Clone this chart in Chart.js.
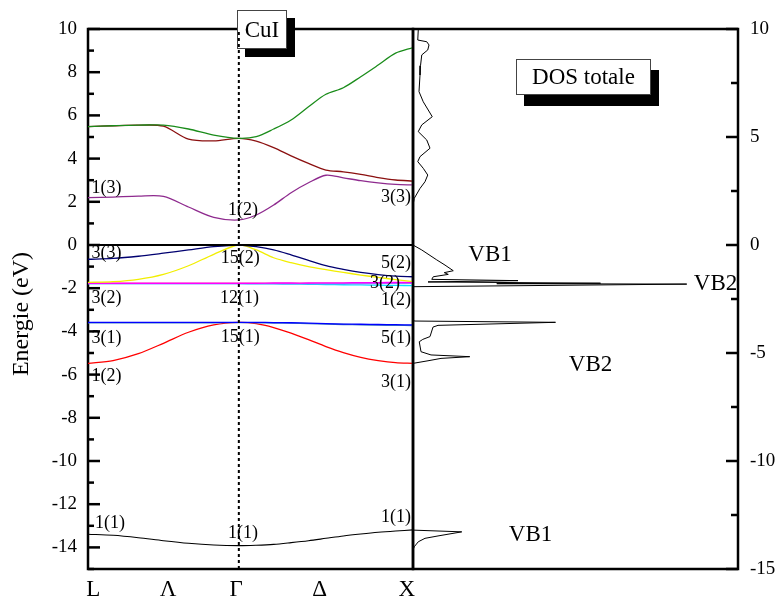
<!DOCTYPE html>
<html>
<head>
<meta charset="utf-8">
<script src="https://cdn.jsdelivr.net/npm/chart.js@4.4.1/dist/chart.umd.min.js"></script>
<style>
  html, body { margin: 0; padding: 0; background: #fff; }
  #wrap { position: relative; width: 780px; height: 608px; }
  #bands { position: absolute; left: 0; top: 0; width: 416px; height: 608px; }
  #dos { position: absolute; left: 408px; top: 0; width: 372px; height: 608px; }
</style>
</head>
<body>
<div id="wrap">
  <canvas id="bands" width="416" height="608"></canvas>
  <canvas id="dos" width="372" height="608"></canvas>
</div>
<script>
// ---------------------------------------------------------------
// Données : structure de bandes de CuI (L -> Γ -> X) et DOS totale
// ---------------------------------------------------------------
const SERIF = '"Liberation Serif", "Times New Roman", serif';

// chemin k en unités de 2π/a
const kPath = [0, 0.144, 0.289, 0.433, 0.577, 0.722, 0.866, 0.966, 1.066, 1.166, 1.266, 1.366, 1.466, 1.566, 1.666, 1.766, 1.866];
const kLabels = ["L", "Λ", "Γ", "Δ", "X"];
const kLabelPos = [0.03, 0.46, 0.85, 1.33, 1.83];

// énergies des bandes (eV)
const bandGreen   = [5.48, 5.52, 5.55, 5.55, 5.37, 5.09, 4.94, 5.02, 5.37, 5.79, 6.40, 6.98, 7.28, 7.79, 8.33, 8.88, 9.14];
const bandDarkRed = [5.48, 5.52, 5.55, 5.50, 4.90, 4.82, 4.94, 4.81, 4.51, 4.13, 3.78, 3.47, 3.39, 3.27, 3.12, 3.01, 2.96];
const bandPurple  = [2.19, 2.22, 2.26, 2.25, 1.76, 1.28, 1.16, 1.39, 1.85, 2.42, 2.88, 3.23, 3.11, 2.98, 2.88, 2.81, 2.78];
const bandNavy    = [-0.66, -0.62, -0.52, -0.38, -0.23, -0.08, 0, -0.08, -0.23, -0.46, -0.71, -0.96, -1.13, -1.27, -1.37, -1.44, -1.47];
const bandYellow  = [-1.73, -1.70, -1.59, -1.36, -0.96, -0.43, 0, -0.23, -0.59, -0.82, -1.00, -1.14, -1.27, -1.39, -1.50, -1.60, -1.70];
const bandMagenta = [-1.77, -1.77, -1.77, -1.77, -1.77, -1.77, -1.77, -1.77, -1.76, -1.76, -1.76, -1.75, -1.75, -1.74, -1.74, -1.73, -1.73];
const bandViolet  = [-1.79, -1.79, -1.79, -1.79, -1.79, -1.79, -1.79, -1.79, -1.79, -1.79, -1.79, -1.79, -1.79, -1.79, -1.78, -1.78, -1.78];
const bandOrange  = [-1.78, -1.78, -1.78, -1.78, -1.78, -1.78, -1.78, -1.78, -1.78, -1.78, -1.78, -1.78, -1.78, -1.78, -1.77, -1.76, -1.75];
const bandCyan    = [-1.79, -1.79, -1.79, -1.79, -1.79, -1.79, -1.79, -1.80, -1.80, -1.81, -1.82, -1.83, -1.84, -1.85, -1.86, -1.87, -1.88];
const bandBlue    = [-3.58, -3.58, -3.58, -3.58, -3.58, -3.58, -3.58, -3.58, -3.59, -3.60, -3.62, -3.64, -3.66, -3.67, -3.68, -3.69, -3.70];
const bandSteel   = [-3.60, -3.60, -3.60, -3.60, -3.60, -3.60, -3.59, -3.60, -3.61, -3.62, -3.64, -3.66, -3.68, -3.70, -3.71, -3.72, -3.73];
const bandRed     = [-5.48, -5.35, -5.03, -4.55, -4.04, -3.70, -3.58, -3.64, -3.82, -4.08, -4.38, -4.70, -4.98, -5.20, -5.35, -5.45, -5.48];
const bandBlack   = [-13.39, -13.44, -13.55, -13.69, -13.81, -13.89, -13.92, -13.90, -13.86, -13.78, -13.69, -13.58, -13.47, -13.38, -13.30, -13.24, -13.19];

// étiquettes des points de haute symétrie : [texte, k, E, alignement]
const pointLabels = [
  ["1(3)", 0.02, 2.64, "left"], ["3(3)", 0.02, -0.37, "left"], ["3(2)", 0.02, -2.45, "left"],
  ["3(1)", 0.02, -4.31, "left"], ["1(2)", 0.02, -6.06, "left"], ["1(1)", 0.04, -12.87, "left"],
  ["1(2)", 0.89, 1.62, "center"], ["15(2)", 0.874, -0.60, "center"], ["12(1)", 0.87, -2.45, "center"],
  ["15(1)", 0.874, -4.26, "center"], ["1(1)", 0.89, -13.33, "center"],
  ["3(3)", 1.855, 2.22, "right"], ["5(2)", 1.855, -0.83, "right"], ["3(2)", 1.791, -1.76, "right"],
  ["1(2)", 1.855, -2.55, "right"], ["5(1)", 1.855, -4.31, "right"], ["3(1)", 1.855, -6.34, "right"],
  ["1(1)", 1.855, -12.59, "right"]
];

// DOS totale : énergie (eV) / densité (u.a.)
const dosEnergy = [10.0, 9.95, 9.49, 9.41, 9.26, 9.03, 8.80, 8.30, 7.87, 7.10, 6.63, 5.94, 5.56, 5.25, 4.86, 4.48, 4.09, 3.86, 3.55, 3.24, 2.93, 2.62, 2.16, 1.85,
  0.0, -0.23, -0.69, -0.93, -1.19, -1.28, -1.36, -1.47, -1.59, -1.65, -1.71, -1.77, -1.79, -1.81, -1.93,
  -3.50, -3.52, -3.58, -3.72, -3.80, -4.24, -4.37, -4.48, -4.94, -5.09, -5.17, -5.25, -5.36, -5.48,
  -13.20, -13.28, -13.47, -13.58, -13.74, -13.97, -14.12, -15.0];
const dosValue = [0.40, 0.42, 0.38, 1.10, 1.28, 1.18, 0.70, 0.60, 0.56, 0.48, 0.82, 1.54, 0.70, 0.42, 1.10, 1.36, 0.56, 0.38, 0.82, 1.18, 0.96, 0.56, 0.10, 0,
  0, 0.70, 1.90, 2.56, 3.22, 2.50, 2.82, 1.62, 1.50, 8.40, 1.20, 15.0, 6.70, 21.9, 0,
  0, 0.16, 11.4, 2.00, 1.60, 1.36, 0.78, 0.50, 0.64, 1.44, 4.54, 2.24, 1.20, 0,
  0, 3.90, 2.00, 0.96, 0.42, 0.10, 0, 0];

// étiquettes des pics de la DOS : [texte, densité, E]
const dosLabels = [["VB1", 6.16, -0.46], ["VB2", 24.2, -1.81], ["VB2", 14.2, -5.56], ["VB1", 9.4, -13.43]];

// ---------------------------------------------------------------
// Petits utilitaires de dessin
// ---------------------------------------------------------------
function shadowBox(ctx, x, y, w, h, dx, dy, text) {
  ctx.save();
  ctx.fillStyle = "#000";
  ctx.fillRect(x + dx, y + dy, w, h);
  ctx.fillStyle = "#fff";
  ctx.fillRect(x, y, w, h);
  ctx.strokeStyle = "#444";
  ctx.lineWidth = 1;
  ctx.strokeRect(x + 0.5, y + 0.5, w - 1, h - 1);
  ctx.fillStyle = "#000";
  ctx.font = "23px " + SERIF;
  ctx.textAlign = "center";
  ctx.textBaseline = "middle";
  ctx.fillText(text, x + w / 2, y + h / 2 + 1);
  ctx.restore();
}

// graduations vers l'intérieur
function innerTicks(ctx, scale, x, dir, isMajor, majorLen, minorLen) {
  ctx.save();
  ctx.strokeStyle = "#000";
  ctx.lineWidth = 2.5;
  scale.ticks.forEach(t => {
    const y = scale.getPixelForValue(t.value);
    const len = isMajor(t.value) ? majorLen : minorLen;
    ctx.beginPath();
    ctx.moveTo(x, y);
    ctx.lineTo(x + dir * len, y);
    ctx.stroke();
  });
  ctx.restore();
}

const line = (data, color, width) => ({
  data: data.map((e, i) => ({ x: kPath[i], y: e })),
  borderColor: color,
  borderWidth: width || 1.3,
  pointRadius: 0,
  tension: 0.3,
  fill: false
});

// ---------------------------------------------------------------
// 1) Structure de bandes
// ---------------------------------------------------------------
const bandDecor = {
  id: "bandDecor",
  beforeDatasetsDraw(chart) {
    const { ctx, chartArea: a, scales } = chart;
    innerTicks(ctx, scales.y, a.left, 1, v => v % 2 === 0, 12, 6);
    ctx.save();
    ctx.strokeStyle = "#000";
    ctx.lineWidth = 2.5;
    ctx.strokeRect(a.left, a.top, a.right - a.left, a.bottom - a.top);
    ctx.restore();
    shadowBox(ctx, 237, 10, 50, 39, 8, 8, "CuI");
  },
  afterDatasetsDraw(chart) {
    const { ctx, scales } = chart;
    ctx.save();
    ctx.fillStyle = "#000";
    ctx.font = "18px " + SERIF;
    ctx.textBaseline = "middle";
    pointLabels.forEach(([txt, k, e, al]) => {
      ctx.textAlign = al;
      ctx.fillText(txt, scales.x.getPixelForValue(k), scales.y.getPixelForValue(e));
    });
    // titre de l'axe des énergies
    ctx.translate(22, 314);
    ctx.rotate(-Math.PI / 2);
    ctx.font = "24px " + SERIF;
    ctx.textAlign = "center";
    ctx.fillText("Energie (eV)", 0, 0);
    ctx.restore();
  }
};

new Chart(document.getElementById("bands"), {
  type: "line",
  data: {
    datasets: [
      // niveau de Fermi et ligne verticale en Γ
      { data: [{ x: kPath[0], y: 0 }, { x: kPath[kPath.length - 1], y: 0 }], borderColor: "#000", borderWidth: 2, pointRadius: 0 },
      { data: [{ x: kPath[6], y: -15 }, { x: kPath[6], y: 10 }], borderColor: "#000", borderWidth: 2, borderDash: [3, 3], pointRadius: 0 },
      line(bandNavy, "#000070"),
      line(bandYellow, "#f2ee00"),
      line(bandMagenta, "#ff00ff"),
      line(bandViolet, "#b266ff"),
      line(bandOrange, "#ffa500"),
      line(bandCyan, "#00e5ff"),
      line(bandBlue, "#0000ff"),
      line(bandSteel, "#3c78c0"),
      line(bandRed, "#ff0000"),
      line(bandPurple, "#8e2a8e"),
      line(bandGreen, "#1a8c1a"),
      line(bandDarkRed, "#8b1010"),
      line(bandBlack, "#000", 1.1)
    ]
  },
  options: {
    responsive: false,
    animation: false,
    events: [],
    layout: { autoPadding: false, padding: { left: 0, top: 29, right: 3, bottom: 0 } },
    plugins: { legend: { display: false }, tooltip: { enabled: false } },
    scales: {
      x: {
        type: "linear",
        min: kPath[0],
        max: kPath[kPath.length - 1],
        grid: { display: false, drawTicks: false },
        border: { display: false },
        afterBuildTicks: s => { s.ticks = kLabelPos.map(v => ({ value: v })); },
        afterFit: s => { s.height = 39; s.paddingLeft = 0; s.paddingRight = 0; },
        ticks: {
          autoSkip: false,
          maxRotation: 0,
          padding: 7,
          color: "#000",
          font: { family: SERIF, size: 23 },
          callback: (v, i) => kLabels[i]
        }
      },
      y: {
        min: -15,
        max: 10,
        grid: { display: false, drawTicks: false },
        border: { display: false },
        afterFit: s => { s.width = 88; s.paddingTop = 0; s.paddingBottom = 0; },
        ticks: {
          stepSize: 1,
          autoSkip: false,
          padding: 11,
          color: "#000",
          font: { family: SERIF, size: 19 },
          callback: v => (v % 2 === 0 ? v : "")
        }
      }
    }
  },
  plugins: [bandDecor]
});

// ---------------------------------------------------------------
// 2) DOS totale
// ---------------------------------------------------------------
const dosDecor = {
  id: "dosDecor",
  afterDatasetsDraw(chart) {
    const { ctx, chartArea: a, scales } = chart;
    innerTicks(ctx, scales.y, a.right, -1, v => v % 5 === 0, 12, 7);
    // cadre du panneau (le bord gauche cache la DOS nulle)
    ctx.save();
    ctx.strokeStyle = "#000";
    ctx.lineWidth = 2.5;
    ctx.strokeRect(a.left, a.top, a.right - a.left, a.bottom - a.top);
    ctx.restore();
    shadowBox(ctx, 108, 59, 135, 36, 8, 11, "DOS totale");

    ctx.save();
    ctx.fillStyle = "#000";
    ctx.font = "23px " + SERIF;
    ctx.textAlign = "center";
    ctx.textBaseline = "middle";
    dosLabels.forEach(([txt, d, e]) => {
      ctx.fillText(txt, scales.x.getPixelForValue(d), scales.y.getPixelForValue(e));
    });
    ctx.restore();
  }
};

new Chart(document.getElementById("dos"), {
  type: "scatter",
  data: {
    datasets: [{
      data: dosEnergy.map((e, i) => ({ x: dosValue[i], y: e })),
      showLine: true,
      borderColor: "#000",
      borderWidth: 1,
      pointRadius: 0,
      tension: 0
    }]
  },
  options: {
    responsive: false,
    animation: false,
    events: [],
    layout: { autoPadding: false, padding: { left: 5, top: 29, right: 0, bottom: 39 } },
    plugins: { legend: { display: false }, tooltip: { enabled: false } },
    scales: {
      x: { type: "linear", min: 0, max: 26, display: false },
      y: {
        position: "right",
        min: -15,
        max: 10,
        grid: { display: false, drawTicks: false },
        border: { display: false },
        afterFit: s => { s.width = 42; s.paddingTop = 0; s.paddingBottom = 0; },
        ticks: {
          stepSize: 2.5,
          autoSkip: false,
          padding: 12,
          color: "#000",
          font: { family: SERIF, size: 19 },
          callback: v => (v % 5 === 0 ? v : "")
        }
      }
    }
  },
  plugins: [dosDecor]
});
</script>
</body>
</html>
